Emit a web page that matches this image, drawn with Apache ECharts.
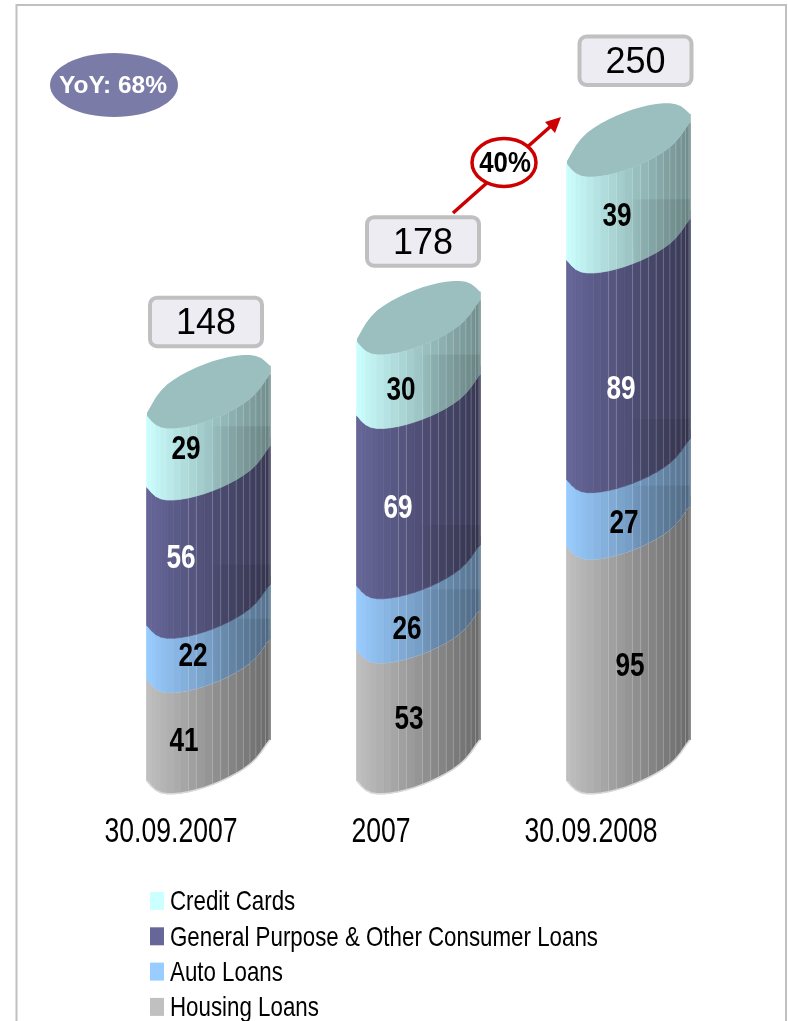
<!DOCTYPE html>
<html>
<head>
<meta charset="utf-8">
<style>html,body{margin:0;padding:0;background:#fff}#chart{width:788px;height:1021px}</style>
<script src="https://cdn.jsdelivr.net/npm/echarts@6/dist/echarts.min.js"></script>
</head>
<body>
<div id="chart"></div>
<script>
// Retail loan book by product, stacked per reporting date
const periods = ['30.09.2007', '2007', '30.09.2008'];
const housingLoans = [41, 53, 95];
const autoLoans = [22, 26, 27];
const generalLoans = [56, 69, 89];
const creditCards = [29, 30, 39];
const totals = [148, 178, 250];
const legendOrder = ['Credit Cards', 'General Purpose & Other Consumer Loans', 'Auto Loans', 'Housing Loans'];
const growthLabel = '40%';
const yoyLabel = 'YoY: 68%';

// Cylinder geometry, in pixels
const HALF_W = 61.5, RX = 65, RY = 29, TILT = 23, END_DROP = 24, DEPTH = 37.5;
const FACET = Math.PI / 25;
const FONT = '"Liberation Sans",Arial,sans-serif';

// Hand placement of the value labels and total boxes around each cylinder
const labelShift = {
  'Housing Loans': [[13, 11], [28, 4], [39, 3]],
  'Auto Loans': [[22, 4], [26, 12], [33, 10]],
  'General Purpose & Other Consumer Loans': [[10, 2], [17, 8], [30, 20]],
  'Credit Cards': [[15, -2], [20, 12], [26, 4]]
};
const boxShift = [[35, -94], [42, -100.5], [44.5, -103.5]];

function rgbOf(hex) {
  return [1, 3, 5].map(i => parseInt(hex.slice(i, i + 2), 16));
}
function shaded(rgb, k) {
  return 'rgb(' + rgb.map(c => Math.round(c * k)).join(',') + ')';
}
// Rim of a slanted disc, blunted where it meets the straight walls
function rimPoint(cx, cy, t) {
  const c = Math.cos(t), s = Math.sin(t);
  const raw = RX * c;
  const x = Math.max(-HALF_W, Math.min(HALF_W, raw));
  const w = Math.pow(Math.min(1, Math.abs(raw) / HALF_W), 10);
  const end = c < 0 ? (s >= 0 ? END_DROP : 21) : (s >= 0 ? -17 : -26);
  const y = (RY * s - TILT * c) * (1 - w) + end * w;
  return [cx + x, cy + y];
}
function arc(cx, cy, from, to) {
  const pts = [];
  const n = Math.round(Math.abs(to - from) / FACET);
  for (let i = 0; i <= n; i++) pts.push(rimPoint(cx, cy, from + (to - from) * i / n));
  return pts;
}

function makeRenderer(name, color, isTop, values) {
  const rgb = rgbOf(color);
  return function (params, api) {
    const cat = api.value(0), base = api.value(1), top = api.value(2);
    const lo = api.coord([cat, base]);
    const hi = api.coord([cat, top]);
    const cx = lo[0] + DEPTH;
    const cyLo = lo[1] - END_DROP, cyHi = hi[1] - END_DROP;
    const kids = [];

    // Faceted wall, light on the left and falling off to the right
    for (let i = 0; i < 25; i++) {
      const t0 = Math.PI - i * FACET, t1 = t0 - FACET;
      const a = rimPoint(cx, cyLo, t0), b = rimPoint(cx, cyLo, t1);
      const c = rimPoint(cx, cyHi, t1), d = rimPoint(cx, cyHi, t0);
      const k = 1 - 0.45 * ((a[0] + b[0]) / 2 - (cx - HALF_W)) / (2 * HALF_W);
      const fill = shaded(rgb, k);
      kids.push({
        type: 'polygon',
        shape: { points: [a, b, c, d] },
        style: { fill: fill, stroke: fill, lineWidth: 0.6 }
      });
    }
    // Pale seams between the facets on the shaded side
    for (let i = 10; i < 24; i++) {
      if (i === 12) continue;
      const t = Math.PI - i * FACET;
      const a = rimPoint(cx, cyLo, t), d = rimPoint(cx, cyHi, t);
      kids.push({
        type: 'line',
        shape: { x1: a[0], y1: a[1], x2: d[0], y2: d[1] },
        style: { stroke: 'rgba(255,255,255,0.22)', lineWidth: 1 }
      });
    }
    // Shadow of the band below, faintly visible through this one
    if (base > 0) {
      const front = arc(cx, cyLo, Math.PI / 2 - 0.1, 0).filter(p => p[0] >= cx);
      const ceiling = cyLo - 37;
      kids.push({
        type: 'polygon',
        shape: { points: [[cx, ceiling], [cx + HALF_W, ceiling]].concat(front.reverse()) },
        style: {
          fill: new echarts.graphic.LinearGradient(0, 0, 1, 0, [
            { offset: 0, color: 'rgba(0,0,0,0)' },
            { offset: 0.25, color: 'rgba(0,0,0,0.06)' },
            { offset: 1, color: 'rgba(0,0,0,0.08)' }
          ])
        }
      });
    }
    // Pale rim on the housing band
    if (base === 0) {
      kids.push({
        type: 'polyline',
        shape: { points: arc(cx, cyLo, Math.PI, 0) },
        style: { stroke: '#d8d8d8', lineWidth: 1.5, fill: 'none' }
      });
      kids.push({
        type: 'polyline',
        shape: { points: arc(cx, cyHi, Math.PI, 0) },
        style: { stroke: '#cfcfcf', lineWidth: 1, fill: 'none' }
      });
    }
    // Top cap of the whole cylinder
    if (isTop) {
      kids.push({
        type: 'polygon',
        shape: { points: arc(cx, cyHi, 0, Math.PI * 2) },
        style: { fill: '#9ABFBE' }
      });
    }
    // Value label
    const shift = labelShift[name][cat];
    kids.push({
      type: 'text',
      x: lo[0] + shift[0],
      y: (lo[1] + hi[1]) / 2 + shift[1],
      scaleX: 0.77,
      style: {
        text: String(values[cat]),
        font: 'bold 34px ' + FONT,
        fill: color === '#666699' ? '#ffffff' : '#000000',
        align: 'center',
        verticalAlign: 'middle'
      }
    });
    // Total box above the cylinder
    if (isTop) {
      const bx = lo[0] + boxShift[cat][0], by = hi[1] + boxShift[cat][1];
      kids.push({
        type: 'rect',
        shape: { x: bx - 56, y: by - 24, width: 112, height: 48.5, r: 7 },
        style: { fill: '#ECECF2', stroke: '#C0C0C0', lineWidth: 4 }
      });
      kids.push({
        type: 'text',
        x: bx, y: by + 2.5,
        style: {
          text: String(totals[cat]),
          font: '36px ' + FONT,
          fill: '#000000',
          align: 'center',
          verticalAlign: 'middle'
        }
      });
    }
    return { type: 'group', children: kids };
  };
}

// Bands are listed bottom to top; each entry runs from the running total to the next
const bands = [
  { name: 'Housing Loans', color: '#C0C0C0', values: housingLoans },
  { name: 'Auto Loans', color: '#99CCFF', values: autoLoans },
  { name: 'General Purpose & Other Consumer Loans', color: '#666699', values: generalLoans },
  { name: 'Credit Cards', color: '#CCFFFF', values: creditCards }
];
const running = periods.map(() => 0);
const series = bands.map((band, idx) => ({
  type: 'custom',
  name: band.name,
  coordinateSystem: 'cartesian2d',
  itemStyle: { color: band.color },
  encode: { x: 0, y: [1, 2] },
  clip: false,
  silent: true,
  z: 2 + idx,
  renderItem: makeRenderer(band.name, band.color, idx === bands.length - 1, band.values),
  data: band.values.map((v, i) => {
    const row = [i, running[i], running[i] + v];
    running[i] += v;
    return row;
  })
}));

// Category captions under the cylinders, set in a condensed cut
series.push({
  type: 'custom',
  name: 'captions',
  coordinateSystem: 'cartesian2d',
  encode: { x: 0, y: 1 },
  clip: false,
  silent: true,
  z: 2,
  data: periods.map((p, i) => [i, 0]),
  renderItem: function (params, api) {
    const p = api.coord([api.value(0), 0]);
    return {
      type: 'text',
      x: p[0],
      y: p[1] + 51,
      scaleX: 0.76,
      style: {
        text: periods[api.value(0)],
        font: '35px ' + FONT,
        fill: '#000',
        align: 'center',
        verticalAlign: 'middle'
      }
    };
  }
});

// Key below the plot: swatch plus condensed caption on each row
const keyElements = [];
legendOrder.forEach((name, i) => {
  const band = bands.find(b => b.name === name);
  const top = 892 + i * 35.3;
  keyElements.push({
    type: 'rect', silent: true, z: 10,
    shape: { x: 150, y: top, width: 14, height: 18 },
    style: { fill: band.color }
  });
  keyElements.push({
    type: 'text', silent: true, z: 10, x: 170, y: top + 10.5,
    scaleX: 0.797,
    style: { text: name, font: '28px ' + FONT, fill: '#000', align: 'left', verticalAlign: 'middle' }
  });
});

const chart = echarts.init(document.getElementById('chart'), null, { renderer: 'canvas' });
chart.setOption({
  animation: false,
  backgroundColor: '#ffffff',
  grid: { left: 66, right: 92, top: 164, bottom: 240 },
  xAxis: {
    type: 'category',
    data: periods,
    axisLine: { show: false },
    axisTick: { show: false },
    axisLabel: { show: false }
  },
  yAxis: { type: 'value', min: 0, max: 250, show: false },
  series: series,
  graphic: keyElements.concat([
    {
      type: 'polyline', silent: true, z: 0,
      shape: { points: [[16.5, 1030], [16.5, 5], [786, 5], [786, 1030]] },
      style: { stroke: '#C0C0C0', lineWidth: 2, fill: 'none' }
    },
    {
      type: 'ellipse', silent: true, z: 10,
      shape: { cx: 114, cy: 85, rx: 64, ry: 32 },
      style: { fill: '#7B7BA8' }
    },
    {
      type: 'text', silent: true, z: 11, x: 113, y: 86,
      style: { text: yoyLabel, font: 'bold 24.5px ' + FONT, fill: '#fff', align: 'center', verticalAlign: 'middle' }
    },
    {
      type: 'line', silent: true, z: 10,
      shape: { x1: 453, y1: 213, x2: 551, y2: 126 },
      style: { stroke: '#CC0000', lineWidth: 3.5 }
    },
    {
      type: 'polygon', silent: true, z: 10,
      shape: { points: [[561, 117], [545, 122], [555, 133]] },
      style: { fill: '#CC0000' }
    },
    {
      type: 'ellipse', silent: true, z: 11,
      shape: { cx: 504, cy: 162.5, rx: 32, ry: 24 },
      style: { fill: '#fff', stroke: '#CC0000', lineWidth: 3.5 }
    },
    {
      type: 'text', silent: true, z: 12, x: 505, y: 164, scaleX: 0.89,
      style: { text: growthLabel, font: 'bold 29px ' + FONT, fill: '#000', align: 'center', verticalAlign: 'middle' }
    }
  ])
});
</script>
</body>
</html>
